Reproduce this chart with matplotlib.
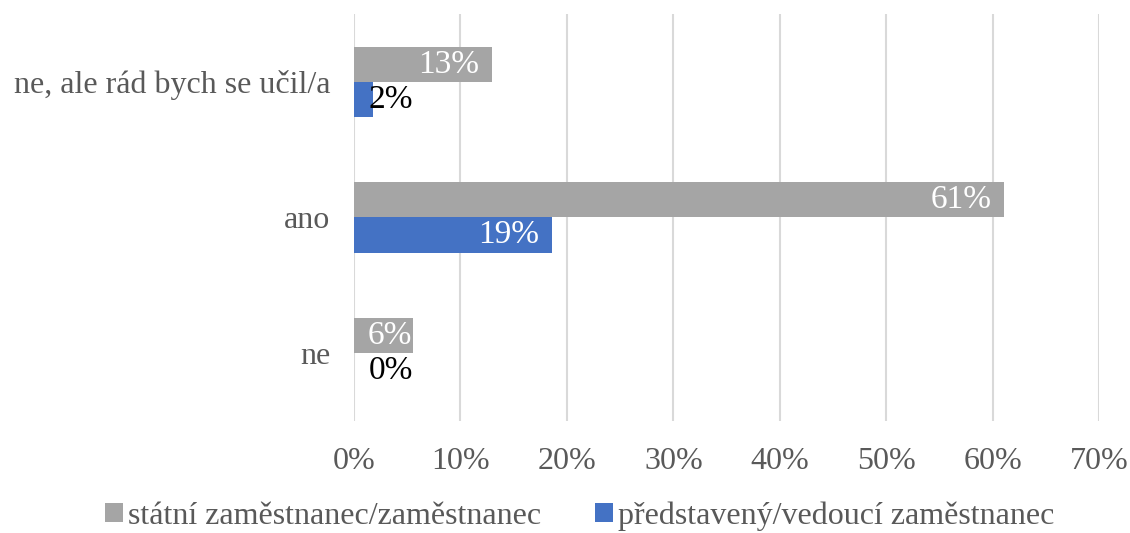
import numpy as np
import matplotlib.pyplot as plt
from matplotlib.ticker import MultipleLocator, FuncFormatter

plt.rcParams['font.family'] = ['Liberation Serif', 'DejaVu Serif']

# data (bottom to top as drawn)
categories = ['ne', 'ano', 'ne, ale rád bych se učil/a']
statni = [5.5, 61.1, 13.0]
predstaveny = [0.0, 18.6, 1.8]
series_names = ['státní zaměstnanec/zaměstnanec', 'představený/vedoucí zaměstnanec']

gray = '#A5A5A5'
blue = '#4472C4'

fig = plt.figure(figsize=(11.3, 5.33), dpi=100)
ax = fig.add_axes([0.3133, 0.2106, 0.6593, 0.7627])

y = np.arange(len(categories))
h = 0.26
b1 = ax.barh(y + h / 2, statni, height=h, color=gray, label=series_names[0], zorder=3)
b2 = ax.barh(y - h / 2, predstaveny, height=h, color=blue, label=series_names[1], zorder=3)

# value labels (inside end, pushed right when the bar is too short)
for bars, vals in [(b1, statni), (b2, predstaveny)]:
    for rect, v in zip(bars, vals):
        yc = rect.get_y() + rect.get_height() / 2
        txt = f'{round(v):.0f}%'
        if v > 4:
            ax.text(max(v - 1.2, 5.4), yc, txt, ha='right', va='center', color='white',
                    fontsize=24, zorder=4)
        else:
            ax.text(1.4, yc, txt, ha='left', va='center', color='black',
                    fontsize=24, zorder=4)

ax.set_xlim(0, 70)
ax.set_ylim(-0.5, 2.5)
ax.xaxis.set_major_locator(MultipleLocator(10))
ax.xaxis.set_major_formatter(FuncFormatter(lambda v, p: f'{v:.0f}%'))
ax.set_yticks(y)
ax.set_yticklabels(categories)
ax.tick_params(axis='both', length=0, labelsize=23, colors='#595959')
ax.tick_params(axis='x', pad=19)
ax.tick_params(axis='y', pad=17)
ax.grid(axis='x', color='#D9D9D9', linewidth=1.5, zorder=0)
for s in ax.spines.values():
    s.set_visible(False)

fig.legend(handles=[b1, b2], loc='lower center', bbox_to_anchor=(0.513, -0.05),
           ncol=2, frameon=False, fontsize=23, handlelength=0.56, handleheight=0.5,
           handletextpad=0.15, columnspacing=1.7, labelcolor='#595959')

fig.savefig('out.png', dpi=100)
